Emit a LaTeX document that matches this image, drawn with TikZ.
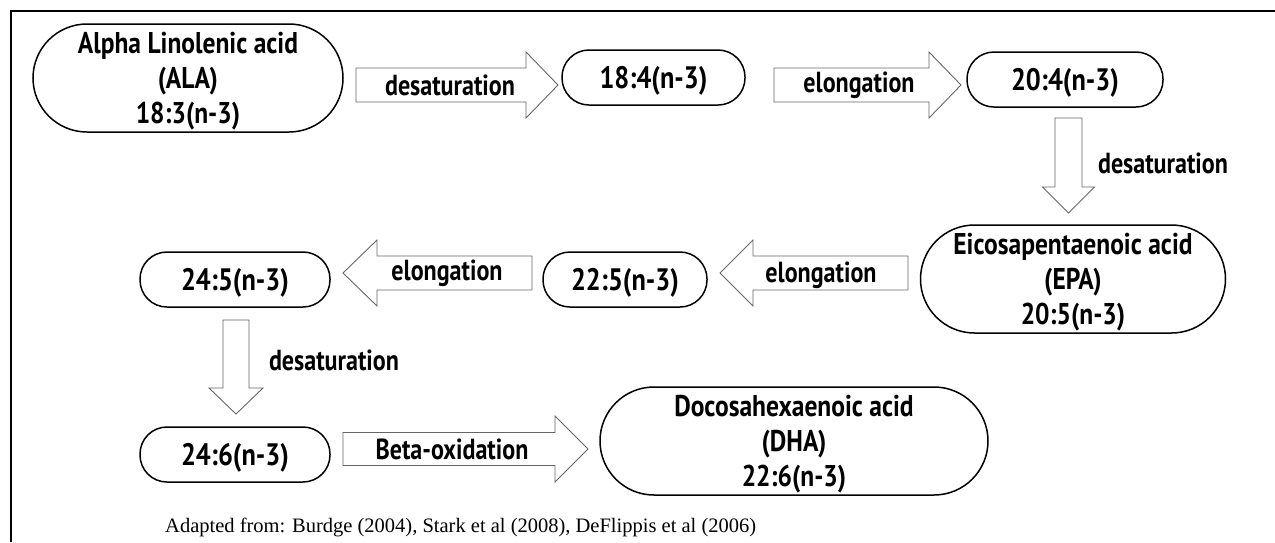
\documentclass[tikz,border=0pt]{standalone}
\usepackage{fontspec}
\setmainfont{PT Sans}
\newfontfamily\nodefont{PT Sans}[FakeStretch=0.85]
\newfontfamily\lblfont{PT Sans}[FakeStretch=0.83]
\newfontfamily\reffont{Liberation Serif}
\usetikzlibrary{calc}
\tikzset{
  acid/.style={draw=black, line width=1.5pt, fill=white, rounded corners=#1,
    inner sep=0pt, align=center, text depth=0pt,
    font=\nodefont\bfseries\fontsize{30}{35}\selectfont},
  acid/.default=27pt,
  small/.style={font=\nodefont\bfseries\fontsize{31}{35}\selectfont},
  blk/.style={draw=black!60, line width=0.9pt, fill=white, line join=miter},
  lbl/.style={inner sep=0pt, font=\lblfont\bfseries\fontsize{29}{33}\selectfont},
  frame/.style={line width=2pt}
}
% #1 tail, #2 tip, #3 half body width, #4 half head width, #5 head length
\newcommand\blockarrow[5]{%
  \draw[blk] let \p1=(#1), \p2=(#2),
     \n1={veclen(\x2-\x1,\y2-\y1)},
     \n2={(\x2-\x1)/\n1}, \n3={(\y2-\y1)/\n1} in
     ({\x1-#3*\n3},{\y1+#3*\n2}) --
     ({\x2-#5*\n2-#3*\n3},{\y2-#5*\n3+#3*\n2}) --
     ({\x2-#5*\n2-#4*\n3},{\y2-#5*\n3+#4*\n2}) --
     (\x2,\y2) --
     ({\x2-#5*\n2+#4*\n3},{\y2-#5*\n3-#4*\n2}) --
     ({\x2-#5*\n2+#3*\n3},{\y2-#5*\n3-#3*\n2}) --
     ({\x1+#3*\n3},{\y1-#3*\n2}) -- cycle;}
\begin{document}
\begin{tikzpicture}[x=1pt,y=1pt]
\useasboundingbox (0,0) rectangle (1275,-542);
\coordinate (fb) at (11,-542);
\coordinate (fc) at (11,-11);
\coordinate (fr) at (1275,-11);
\draw[frame] (fb) -- (fc) -- (fr);

% acids
\node[acid=54pt, minimum width=310pt, minimum height=108pt] (ala) at (188,-78) {Alpha Linolenic acid\\(ALA)\\18:3(n-3)};
\node[acid, small, minimum width=183pt, minimum height=55pt] (s184) at (653.5,-77.5) {18:4(n-3)};
\node[acid, small, minimum width=196pt, minimum height=55pt] (s204) at (1065,-79.5) {20:4(n-3)};
\node[acid=54pt, minimum width=305pt, minimum height=108pt] (epa) at (1073,-279) {Eicosapentaenoic acid\\(EPA)\\20:5(n-3)};
\node[acid, small, minimum width=164pt, minimum height=55pt] (s225) at (625,-279.5) {22:5(n-3)};
\node[acid, small, minimum width=190pt, minimum height=55pt] (s245) at (235,-279.5) {24:5(n-3)};
\node[acid, small, minimum width=190pt, minimum height=55pt] (s246) at (235,-454.5) {24:6(n-3)};
\node[acid=54pt, minimum width=388pt, minimum height=108pt] (dha) at (794,-441) {Docosahexaenoic acid\\(DHA)\\22:6(n-3)};

% arrow ends
\coordinate (a1s) at (356,-85);   \coordinate (a1e) at (558,-85);
\coordinate (a2s) at (774,-85);   \coordinate (a2e) at (961,-85);
\coordinate (a3s) at (1068.5,-118); \coordinate (a3e) at (1068.5,-213);
\coordinate (a4s) at (908,-273);  \coordinate (a4e) at (720,-273);
\coordinate (a5s) at (532,-273);  \coordinate (a5e) at (343,-273);
\coordinate (a6s) at (236,-320);  \coordinate (a6e) at (236,-414);
\coordinate (a7s) at (343,-449);  \coordinate (a7e) at (588,-449);

\blockarrow{a1s}{a1e}{17}{33}{32}
\blockarrow{a2s}{a2e}{17}{33}{32}
\blockarrow{a3s}{a3e}{13.5}{26}{26}
\blockarrow{a4s}{a4e}{17}{33}{33}
\blockarrow{a5s}{a5e}{17}{33}{34}
\blockarrow{a6s}{a6e}{13}{27}{26}
\blockarrow{a7s}{a7e}{16.5}{33}{33}

% labels
\node[lbl] (l1) at (450,-85) {desaturation};
\node[lbl] (l2) at (859,-85) {elongation};
\node[lbl] (l3) at (1163,-163) {desaturation};
\node[lbl] (l4) at (821,-275) {elongation};
\node[lbl] (l5) at (447,-273) {elongation};
\node[lbl] (l6) at (334,-360) {desaturation};
\node[lbl] (l7) at (452,-449) {Beta-oxidation};

\node[anchor=west, inner sep=0pt, font=\reffont\fontsize{20.5}{22}\selectfont] (src) at (165,-527) {Adapted from: Burdge (2004), Stark et al (2008), DeFlippis et al (2006)};
\end{tikzpicture}
\end{document}
